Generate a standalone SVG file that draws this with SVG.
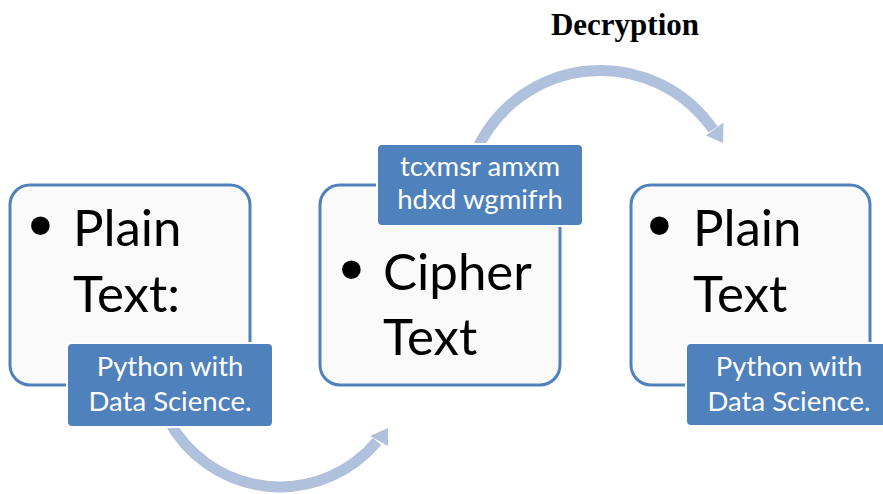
<svg xmlns="http://www.w3.org/2000/svg" width="883" height="494" viewBox="0 0 883 494">
  <style>
    .box { fill: #fafafa; stroke: #4f81bd; stroke-width: 3; }
    .tag { fill: #4f81bd; stroke: #ffffff; stroke-width: 2; }
    .main { font-family: Lato, "Open Sans", sans-serif; font-size: 51px; fill: #000000; }
    .bul { font-family: "DejaVu Sans", sans-serif; font-size: 64px; fill: #000000; }
    .tagtxt { font-family: Lato, "Open Sans", sans-serif; font-size: 27.5px; fill: #ffffff; text-anchor: middle; }
    .arc { fill: none; stroke: #afc1dd; stroke-width: 11; }
    .head { fill: #afc1dd; }
    .title { font-family: "Liberation Serif", "Times New Roman", serif; font-weight: bold; font-size: 31px; fill: #000000; text-anchor: middle; }
  </style>

  <rect width="883" height="494" fill="#ffffff"/>

  <text class="title" x="625" y="35">Decryption</text>

  <!-- curved arrows between the stages -->
  <g id="connectors">
    <path class="arc" d="M 476.7 150 A 136.4 136.4 0 0 1 713 129.5"/>
    <polygon class="head" points="706,135.5 723.5,122.5 723,143"/>
    <path class="arc" d="M 168.4 420 A 126.5 126.5 0 0 0 377 441.5"/>
    <polygon class="head" points="370,436 388,428 388,446"/>
  </g>

  <g id="plain-text-1">
    <rect class="box" x="10" y="185" width="240" height="200" rx="20"/>
    <text class="bul" x="21.5" y="250">•</text>
    <text class="main" x="73" y="246">Plain</text>
    <text class="main" x="73" y="312">Text:</text>
    <rect class="tag" x="67" y="343" width="206" height="84" rx="5"/>
    <text class="tagtxt" x="170" y="376">Python with</text>
    <text class="tagtxt" x="170" y="411">Data Science.</text>
  </g>

  <g id="cipher-text">
    <rect class="box" x="320" y="185" width="240" height="200" rx="20"/>
    <text class="bul" x="332.5" y="294">•</text>
    <text class="main" x="383" y="290">Cipher</text>
    <text class="main" x="383" y="355">Text</text>
    <rect class="tag" x="377" y="144" width="206" height="82" rx="5"/>
    <text class="tagtxt" x="480" y="176">tcxmsr amxm</text>
    <text class="tagtxt" x="480" y="209">hdxd wgmifrh</text>
  </g>

  <g id="plain-text-2">
    <rect class="box" x="631" y="185" width="239" height="200" rx="20"/>
    <text class="bul" x="640.5" y="250">•</text>
    <text class="main" x="693" y="246">Plain</text>
    <text class="main" x="693" y="312">Text</text>
    <rect class="tag" x="686" y="343" width="206" height="83" rx="5"/>
    <text class="tagtxt" x="789" y="376">Python with</text>
    <text class="tagtxt" x="789" y="411">Data Science.</text>
  </g>
</svg>
